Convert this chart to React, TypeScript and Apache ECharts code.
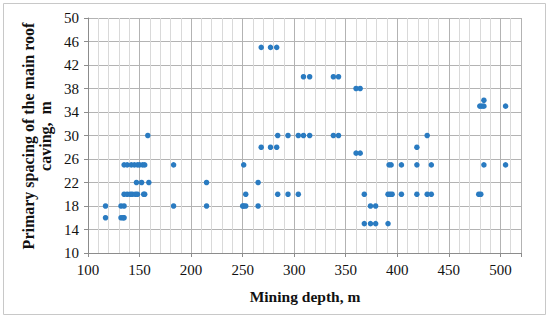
import React, { useEffect, useRef } from "react";
import * as echarts from "echarts";

// Mining depth (m) and primary spacing of main roof caving (m)
const depth: number[] = [
  117, 117,
  132, 134, 135, 132, 135,
  135, 138, 142, 145, 148, 150, 153, 155,
  147, 152, 159,
  135, 138, 141, 143, 146, 148, 154, 155,
  158,
  183, 183,
  215, 215,
  251, 253, 250, 251, 253,
  265, 265,
  268, 277, 283,
  284, 294, 304,
  268, 277, 283,
  309, 315, 338, 343,
  360, 364,
  284, 294, 304, 309, 315, 338, 343,
  429, 419,
  360, 364,
  392, 394, 404, 419, 433,
  368, 391, 393, 395, 404, 419, 429, 433,
  374, 379,
  368, 374, 379, 391,
  484, 480, 482, 484, 505,
  484, 505,
  479, 481,
];
const spacing: number[] = [
  18, 16,
  16, 16, 16, 18, 18,
  25, 25, 25, 25, 25, 25, 25, 25,
  22, 22, 22,
  20, 20, 20, 20, 20, 20, 20, 20,
  30,
  25, 18,
  22, 18,
  25, 20, 18, 18, 18,
  22, 18,
  28, 28, 28,
  20, 20, 20,
  45, 45, 45,
  40, 40, 40, 40,
  38, 38,
  30, 30, 30, 30, 30, 30, 30,
  30, 28,
  27, 27,
  25, 25, 25, 25, 25,
  20, 20, 20, 20, 20, 20, 20, 20,
  18, 18,
  15, 15, 15, 15,
  36, 35, 35, 35, 35,
  25, 25,
  20, 20,
];

const xTitle = "Mining depth, m";
const yTitle = "Primary spacing of the main roof\ncaving,  m";

export default function App() {
  const ref = useRef<HTMLDivElement>(null);
  useEffect(() => {
    document.body.style.margin = "0";
    const chart = echarts.init(ref.current!, null, { renderer: "svg" });
    const points = depth.map((d, i) => [d, spacing[i]]);
    const font = "'Liberation Serif', 'Times New Roman', serif";
    chart.setOption({
      animation: false,
      backgroundColor: "#ffffff",
      grid: { left: 88, right: 29, top: 18, bottom: 69 },
      xAxis: {
        type: "value",
        min: 100,
        max: 520,
        interval: 50,
        axisLine: { show: true, lineStyle: { color: "#8c8c8c", width: 1 } },
        axisTick: { show: true, length: 4, lineStyle: { color: "#8c8c8c" } },
        axisLabel: {
          margin: 9,
          fontFamily: font,
          fontSize: 15,
          color: "#111111",
          formatter: (v: number) => (v > 500 ? "" : String(v)),
        },
        splitLine: { show: true, lineStyle: { color: "#b3b3b3", width: 1 } },
        minorTick: { show: false, splitNumber: 5 },
        minorSplitLine: { show: true, lineStyle: { color: "#d9d9d9", width: 1 } },
      },
      yAxis: {
        type: "value",
        min: 10,
        max: 50,
        interval: 4,
        axisLine: { show: true, lineStyle: { color: "#8c8c8c", width: 1 } },
        axisTick: { show: true, length: 4, lineStyle: { color: "#8c8c8c" } },
        axisLabel: {
          margin: 9,
          fontFamily: font,
          fontSize: 15,
          color: "#111111",
        },
        splitLine: { show: true, lineStyle: { color: "#b3b3b3", width: 1 } },
      },
      graphic: [
        {
          type: "rect",
          shape: { x: 3.5, y: 3.5, width: 542, height: 311 },
          style: { fill: "none", stroke: "#c8c8c8", lineWidth: 1 },
          silent: true,
        },
        {
          type: "text",
          x: 305,
          y: 296,
          style: {
            text: xTitle,
            font: `bold 15.5px ${font}`,
            fill: "#111111",
            align: "center",
            verticalAlign: "middle",
          },
        },
        {
          type: "text",
          x: 37,
          y: 136,
          rotation: Math.PI / 2,
          style: {
            text: yTitle,
            font: `bold 16px ${font}`,
            lineHeight: 17,
            fill: "#111111",
            align: "center",
            verticalAlign: "middle",
          },
        },
      ],
      series: [
        {
          type: "scatter",
          data: points,
          symbol: "circle",
          symbolSize: 5.5,
          itemStyle: { color: "#2a7bc1", opacity: 1 },
        },
      ],
    });
    return () => chart.dispose();
  }, []);
  return <div ref={ref} style={{ width: 550, height: 322 }} />;
}
